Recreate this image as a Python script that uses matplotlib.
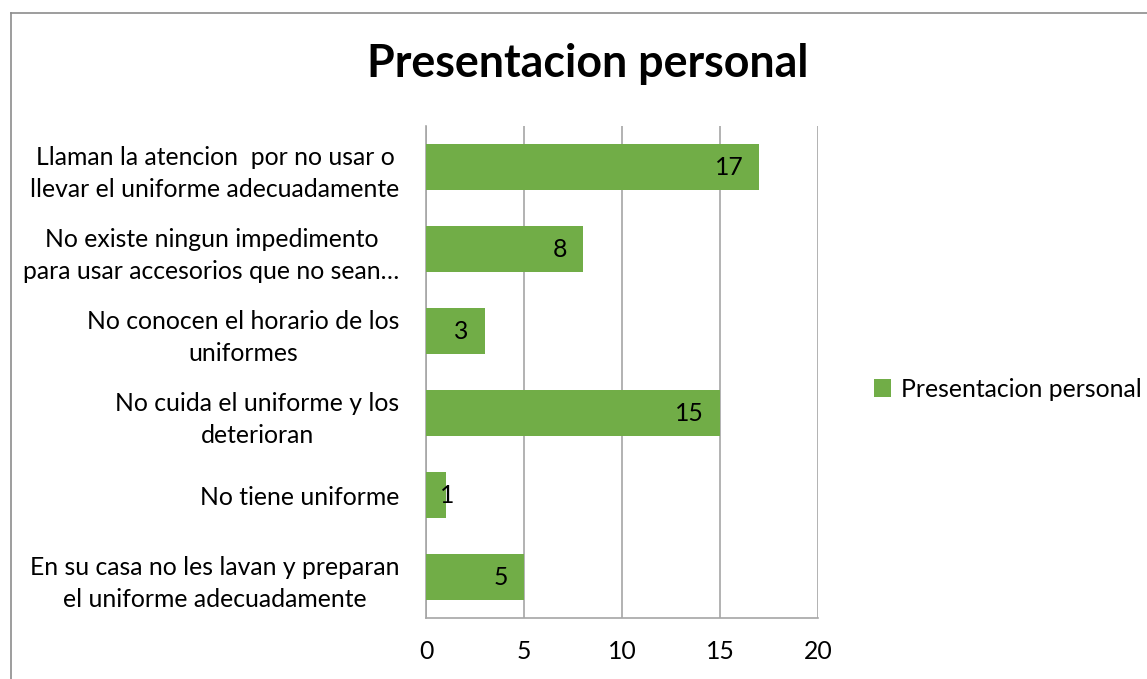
import matplotlib.pyplot as plt
from matplotlib.lines import Line2D

plt.rcParams['font.family'] = ['Lato', 'DejaVu Sans']

categorias = [
    "Llaman la atencion  por no usar o\nllevar el uniforme adecuadamente",
    "No existe ningun impedimento\npara usar accesorios que no sean…",
    "No conocen el horario de los\nuniformes",
    "No cuida el uniforme y los\ndeterioran",
    "No tiene uniforme",
    "En su casa no les lavan y preparan\nel uniforme adecuadamente",
]
valores = [17, 8, 3, 15, 1, 5]
serie = "Presentacion personal"
ticks_x = [0, 5, 10, 15, 20]

verde = '#71AD47'
gris = '#A6A6A6'
tam = 17.8

fig = plt.figure(figsize=(11.47, 6.79), dpi=100)
ax = fig.add_axes([0.3714, 0.0898, 0.3418, 0.7246])

posiciones = list(range(len(categorias)))[::-1]
barras = ax.barh(posiciones, valores, height=0.571, color=verde, label=serie, zorder=3)

ax.set_xlim(0, 20)
ax.set_ylim(-0.5, len(categorias) - 0.5)
ax.set_xticks(ticks_x)
ax.set_yticks(posiciones)
ax.set_yticklabels(categorias, multialignment='center', linespacing=1.45)
ax.tick_params(axis='y', length=0, pad=19, labelsize=tam)
ax.tick_params(axis='x', length=0, pad=16, labelsize=tam)
ax.xaxis.grid(True, color=gris, linewidth=1.2, zorder=0)

for lado in ['top', 'right']:
    ax.spines[lado].set_visible(False)
for lado in ['left', 'bottom']:
    ax.spines[lado].set_color(gris)
    ax.spines[lado].set_linewidth(1.2)

# etiquetas de datos, dentro del extremo
for p, v in zip(posiciones, valores):
    if v >= 2:
        ax.annotate(str(v), (v, p), xytext=(-16, 0), textcoords='offset pixels',
                    ha='right', va='center', fontsize=tam, zorder=4)
    else:
        ax.annotate(str(v), (v, p), xytext=(2, 0), textcoords='offset pixels',
                    ha='center', va='center', fontsize=tam, zorder=4)

fig.text(0.512, 0.906, "Presentacion personal", ha='center', va='center',
         fontsize=32.2, fontweight='bold')

ax.legend(loc='center left', bbox_to_anchor=(1.085, 0.465), frameon=False,
          fontsize=tam, handlelength=0.7, handleheight=0.7, handletextpad=0.4)

# marco del grafico
borde = '#8C8C8C'
fig.add_artist(Line2D([11 / 1147, 11 / 1147], [0, 1 - 13 / 679], color=borde, linewidth=1.2))
fig.add_artist(Line2D([11 / 1147, 1], [1 - 13 / 679, 1 - 13 / 679], color=borde, linewidth=1.2))

fig.savefig('out.png', dpi=100)
